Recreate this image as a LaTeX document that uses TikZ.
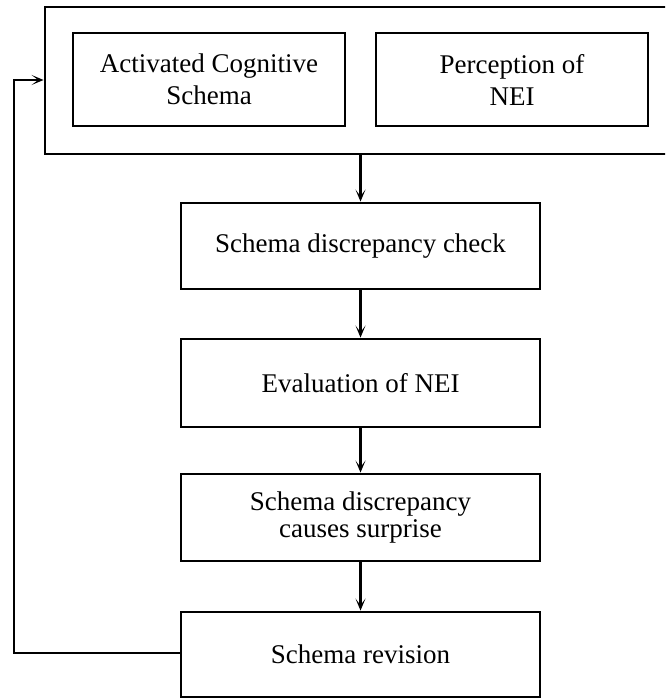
\documentclass[tikz,border=0pt]{standalone}
\usepackage{fontspec}
\setmainfont{Liberation Serif}
\usetikzlibrary{arrows.meta}
\begin{document}
\begin{tikzpicture}[x=0.75pt,y=-0.75pt,
  box/.style={draw,line width=2.2pt,inner sep=0pt,align=center,
    font=\fontsize{20.25}{26}\selectfont},
  arr/.style={line width=2.2pt,-{Stealth[length=9pt,width=7.5pt,inset=5pt]}},
  fb/.style={line width=2pt,-{Stealth[length=9pt,width=7.5pt,inset=5pt]}}]
\useasboundingbox (0,0) rectangle (665,698);
\clip (0,0) rectangle (665,698);
\node[box,minimum width=468.75pt,minimum height=110.25pt] (outer) at (357.5,80.5) {};
\node[box,minimum width=204pt,minimum height=69.75pt,
  font=\fontsize{20.25}{24}\selectfont] (acs) at (209,79.5) {Activated Cognitive\\Schema};
\node[box,minimum width=204pt,minimum height=69.75pt,
  font=\fontsize{20.25}{24}\selectfont] (pn) at (512,79.5) {Perception of\\NEI};
\node[box,minimum width=269.25pt,minimum height=64.5pt] (sdc) at (360.5,246) {Schema discrepancy check};
\node[box,minimum width=269.25pt,minimum height=66pt] (ev) at (360.5,383) {Evaluation of NEI};
\node[box,minimum width=269.25pt,minimum height=65.25pt,
  font=\fontsize{20.25}{20}\selectfont] (sur) at (360.5,517.5) {Schema discrepancy\\causes surprise};
\node[box,minimum width=269.25pt,minimum height=63.75pt] (rev) at (360.5,654.5) {Schema revision};
\coordinate (c1) at (14,653);
\coordinate (c2) at (14,80);
\draw[arr] (outer.south -| sdc.north) -- (sdc.north);
\draw[arr] (sdc) -- (ev);
\draw[arr] (ev) -- (sur);
\draw[arr] (sur) -- (rev);
\draw[fb] (rev.west |- c1) -- (c1) -- (c2) -- (outer.west |- c2);
\end{tikzpicture}
\end{document}
